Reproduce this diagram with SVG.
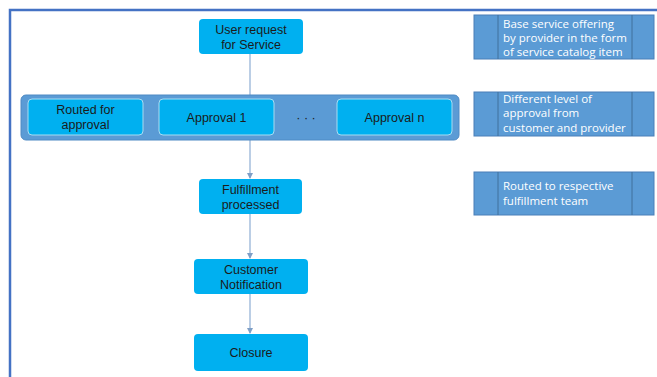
<svg xmlns="http://www.w3.org/2000/svg" width="657" height="377" viewBox="0 0 657 377">
<defs>
<marker id="arr" markerWidth="6" markerHeight="6" refX="5" refY="3" orient="auto" markerUnits="userSpaceOnUse">
<path d="M0,0 L6,3 L0,6 Z" fill="#7f9fc6"/>
</marker>
<style>
.node{fill:#00b0f0;}
.inner{fill:#00b0f0;stroke:#a8dcf2;stroke-width:1;}
.t{font-family:"Liberation Sans",Arial,sans-serif;font-size:12.5px;fill:#1b1b1b;text-anchor:middle;}
.note{fill:#5b9bd5;stroke:#4a7fb8;stroke-width:1;}
.div{stroke:#41719c;stroke-width:1;}
.nt{font-family:"Open Sans","Liberation Sans",sans-serif;font-size:11.5px;fill:#ffffff;}
.conn{stroke:#8eaed4;stroke-width:1.2;fill:none;}
</style>
</defs>
<rect width="657" height="377" fill="#ffffff"/>
<g id="frame">
<path d="M10,377 L10,10 L657,10" fill="none" stroke="#4472c4" stroke-width="2.5"/>
</g>
<g id="connectors">
<line class="conn" x1="250" y1="54" x2="250" y2="95"/>
<line class="conn" x1="250" y1="140" x2="250" y2="178" marker-end="url(#arr)"/>
<line class="conn" x1="250" y1="214" x2="250" y2="258" marker-end="url(#arr)"/>
<line class="conn" x1="250" y1="294" x2="250" y2="333" marker-end="url(#arr)"/>
</g>
<g id="user-request">
<rect class="node" x="199" y="19" width="104" height="35" rx="4"/>
<text class="t" x="251" y="34">User request</text>
<text class="t" x="251" y="49">for Service</text>
</g>
<g id="approval-band">
<rect x="21" y="95" width="438" height="45" rx="5" fill="#5b9bd5" stroke="#4f8ac4" stroke-width="1"/>
</g>
<g id="routed-for-approval">
<rect class="inner" x="28" y="99" width="115" height="36" rx="4"/>
<text class="t" x="85.5" y="114">Routed for</text>
<text class="t" x="85.5" y="129">approval</text>
</g>
<g id="approval-1">
<rect class="inner" x="159" y="99" width="115" height="36" rx="4"/>
<text class="t" x="216.5" y="122">Approval 1</text>
</g>
<g id="ellipsis">
<text class="t" x="306" y="122">· · ·</text>
</g>
<g id="approval-n">
<rect class="inner" x="337" y="99" width="115" height="36" rx="4"/>
<text class="t" x="394.5" y="122">Approval n</text>
</g>
<g id="fulfillment">
<rect class="node" x="199" y="179" width="103" height="35" rx="4"/>
<text class="t" x="250.5" y="194">Fulfillment</text>
<text class="t" x="250.5" y="209">processed</text>
</g>
<g id="customer-notification">
<rect class="node" x="194" y="259" width="114" height="35" rx="4"/>
<text class="t" x="251" y="274">Customer</text>
<text class="t" x="251" y="289">Notification</text>
</g>
<g id="closure">
<rect class="node" x="194" y="334" width="114" height="37" rx="4"/>
<text class="t" x="251" y="357">Closure</text>
</g>
<g id="note-1">
<rect class="note" x="474" y="15" width="180" height="44"/>
<line class="div" x1="498" y1="15" x2="498" y2="59"/>
<line class="div" x1="632" y1="15" x2="632" y2="59"/>
<text class="nt" x="503" y="28">Base service offering</text>
<text class="nt" x="503" y="42">by provider in the form</text>
<text class="nt" x="503" y="56">of service catalog item</text>
</g>
<g id="note-2">
<rect class="note" x="474" y="92" width="180" height="44"/>
<line class="div" x1="498" y1="92" x2="498" y2="136"/>
<line class="div" x1="632" y1="92" x2="632" y2="136"/>
<text class="nt" x="503" y="103">Different level of</text>
<text class="nt" x="503" y="117">approval from</text>
<text class="nt" x="503" y="132">customer and provider</text>
</g>
<g id="note-3">
<rect class="note" x="474" y="172" width="180" height="43"/>
<line class="div" x1="498" y1="172" x2="498" y2="215"/>
<line class="div" x1="632" y1="172" x2="632" y2="215"/>
<text class="nt" x="503" y="190">Routed to respective</text>
<text class="nt" x="503" y="205">fulfillment team</text>
</g>
</svg>
